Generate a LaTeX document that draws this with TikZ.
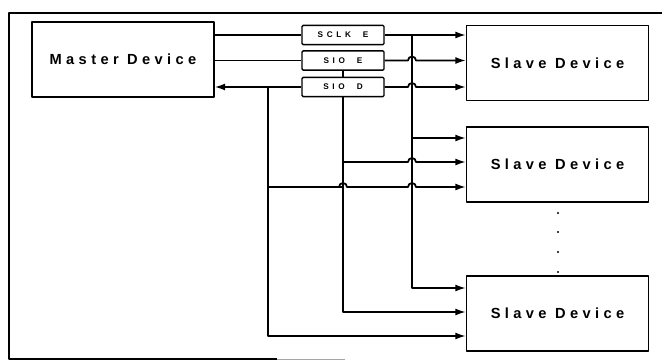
\documentclass[tikz,border=0pt]{standalone}
\usepackage{fontspec}
\newfontfamily\devfont[LetterSpace=30]{Liberation Sans}
\newfontfamily\buffont[LetterSpace=45]{Liberation Sans}
\usetikzlibrary{arrows.meta}

\begin{document}
\begin{tikzpicture}[x=0.3mm,y=-0.3mm,line join=round,
    devbox/.style={draw,line width=1.3pt,minimum width=54.5mm,minimum height=22.6mm,
                   font=\devfont\bfseries\fontsize{12.5}{14}\selectfont},
    bufbox/.style={draw,line width=1.2pt,rounded corners=1pt,minimum width=24.6mm,
                   minimum height=5.8mm,inner sep=0pt,font=\buffont\bfseries\fontsize{7}{8}\selectfont},
    sig/.style={line width=1.5pt},
    sigarr/.style={sig,-{Latex[length=9pt,width=6pt]}}]

  \useasboundingbox (0,0) rectangle (663,362);

  % cornice della figura
  \draw[line width=1.5pt] (662,13) -- (9,13) -- (9,359) -- (277,359);
  \draw[line width=0.8pt,black!35] (277,359) -- (345,359);

  % ---- i dispositivi ----------------------------------------------------
  \node[devbox] (master) at (123,59.5) {Master Device};
  \node[devbox] (slaveA) at (557.5,63)    {Slave Device};
  \node[devbox] (slaveB) at (557.5,164.5) {Slave Device};
  \node[devbox] (slaveC) at (557.5,313.5) {Slave Device};

  % ---- i buffer ----------------------------------------------------------
  \node[bufbox] (bufA) at (343,35)   {SCLK\ \ E};
  \node[bufbox] (bufB) at (343,60.5) {SIO\ \ E};
  \node[bufbox] (bufC) at (343,87)   {SIO\ \ D};

  % punti di diramazione
  \coordinate (clk)  at (412,35);
  \coordinate (dat)  at (bufC.south);
  \coordinate (ret)  at (268,87);

  % ---- master -> buffer -> primo slave -----------------------------------
  \draw[sig] (master.east |- bufA.west) -- (bufA.west);
  \draw[sig] (master.east |- bufB.west) -- (bufB.west);
  \draw[sigarr] (bufC.west) -- (master.east |- bufC.west);
  \draw[sig] (bufB.south) -- (bufC.north);

  \draw[sigarr] (bufA.east) -- (slaveA.west |- bufA.east);
  \draw[sigarr] (bufB.east) -- (408,60.5) arc (180:360:4) -- (slaveA.west |- bufB.east);
  \draw[sigarr] (bufC.east) -- (408,87) arc (180:360:4) -- (slaveA.west |- bufC.east);

  % ---- le tre linee verticali -------------------------------------------
  \draw[sigarr] (clk) |- (slaveC.west |- 0,288);
  \draw[sigarr] (dat) |- (slaveC.west |- 0,312);
  \draw[sigarr] (ret) |- (slaveC.west |- 0,336);

  % ---- secondo slave -----------------------------------------------------
  \draw[sigarr] (412,138) -- (slaveB.west |- 0,138);
  \draw[sigarr] (dat |- 0,162) -- (408,162) arc (180:360:4) -- (slaveB.west |- 0,162);
  \draw[sigarr] (268,187) -- (dat |- 0,187) ++(-4,0) arc (180:360:4)
        -- (408,187) arc (180:360:4) -- (slaveB.west |- 0,187);

  % puntini tra gli slave
  \foreach \yy in {213,232,252,272}
    \fill (558,\yy) circle (0.9pt);

\end{tikzpicture}
\end{document}
